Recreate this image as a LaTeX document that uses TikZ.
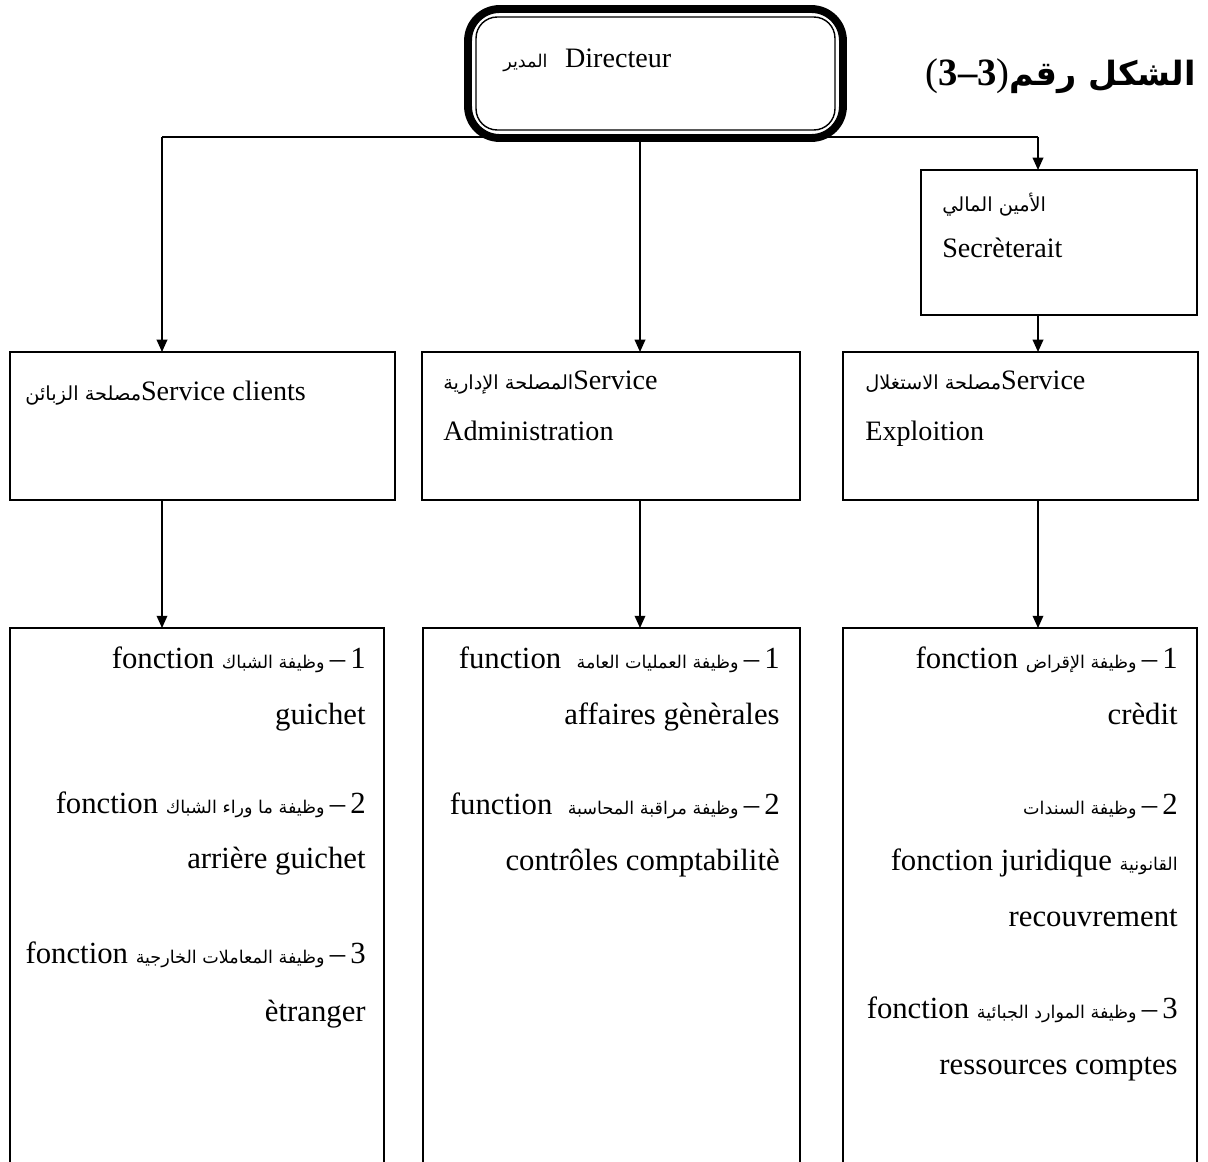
\documentclass[tikz,border=0pt]{standalone}
\usepackage{fontspec}
\setmainfont{Liberation Serif}
\newfontfamily\arfont[Script=Arabic]{DejaVu Sans}
\TeXXeTstate=1
\usetikzlibrary{arrows.meta}
% Arabic run set right to left, optional size in pt
\newcommand{\AR}[2][10]{{\arfont\fontsize{#1}{#1}\selectfont\beginR #2\endR}}
\newcommand{\ARB}[2][16]{{\arfont\bfseries\fontsize{#1}{#1}\selectfont\beginR #2\endR}}

\begin{document}
\begin{tikzpicture}[x=0.02cm,y=-0.02cm,
  box/.style={draw, line width=1pt, fill=white, inner sep=0pt, outer sep=0pt},
  arr/.style={line width=1pt, -{Triangle[length=7pt,width=6pt]}},
  bus/.style={line width=1pt},
  svctext/.style={font=\fontsize{16}{19}\selectfont, inner sep=0pt, anchor=base west},
  fntext/.style={font=\fontsize{17.5}{20}\selectfont, inner sep=0pt, anchor=base east}]
\useasboundingbox (0,0) rectangle (1208,1162);
\clip (0,0) rectangle (1208,1162);

% junction points on the top bus
\coordinate (jL) at (162,137);
\coordinate (jM) at (640,137);
\coordinate (jR) at (1038,137);

% top bus, drawn first so the director box covers it
\draw[bus] (jL) -- (jR);

% director: thick rounded frame with a thin inner frame
\node[box, line width=4.5pt, rounded corners=18pt, minimum width=7.5cm, minimum height=2.58cm] (dir) at (655.5,73.5) {};
\draw[line width=0.8pt, rounded corners=12pt] ([shift={(8,8)}]dir.north west) rectangle ([shift={(-8,-8)}]dir.south east);
\node[svctext] (dirlabel) at (503,68) {\AR[10]{المدير}\hspace{10pt}Directeur};

% title
\node[inner sep=0pt, anchor=base east] (title) at (1196,86) {\fontsize{22}{24}\selectfont(\textbf{3–3})\ARB[19]{الشكل رقم}};

% secretariat
\node[box, minimum width=5.52cm, minimum height=2.9cm] (sec) at (1059,242.5) {};
\node[svctext] (seclabel1) at (942,212) {\AR[11]{الأمين المالي}};
\node[svctext] (seclabel2) at (942,258) {Secrèterait};

% service boxes
\node[box, minimum width=7.7cm, minimum height=2.96cm] (svcL) at (202.5,426) {};
\node[box, minimum width=7.56cm, minimum height=2.96cm] (svcM) at (611,426) {};
\node[box, minimum width=7.1cm, minimum height=2.96cm] (svcR) at (1020.5,426) {};

\node[svctext] (svcLlabel) at (25,400) {\AR[11]{مصلحة الزبائن}Service clients};
\node[svctext] (svcMlabel1) at (443,390) {\AR[11]{المصلحة الإدارية}Service};
\node[svctext] (svcMlabel2) at (443,440) {Administration};
\node[svctext] (svcRlabel1) at (865,390) {\AR[11]{مصلحة الاستغلال}Service};
\node[svctext] (svcRlabel2) at (865,440) {Exploition};

% function boxes (open towards the bottom edge)
\node[box, minimum width=7.48cm, minimum height=11.44cm] (fnL) at (197,914) {};
\node[box, minimum width=7.54cm, minimum height=11.44cm] (fnM) at (611.5,914) {};
\node[box, minimum width=7.08cm, minimum height=11.44cm] (fnR) at (1020,914) {};

% connectors
\draw[arr] (jL) -- (jL |- svcL.north);
\draw[arr] (jM |- dir.south) -- (jM |- svcM.north);
\draw[arr] (jR) -- (jR |- sec.north);
\draw[arr] (jR |- sec.south) -- (jR |- svcR.north);
\draw[arr] (jL |- svcL.south) -- (jL |- fnL.north);
\draw[arr] (jM |- svcM.south) -- (jM |- fnM.north);
\draw[arr] (jR |- svcR.south) -- (jR |- fnR.north);

% left column
\node[fntext] (fnL1) at (366,668) {fonction \AR{وظيفة الشباك}\,–\,1};
\node[fntext] (fnL2) at (366,724) {guichet};
\node[fntext] (fnL3) at (366,813) {fonction \AR{وظيفة ما وراء الشباك}\,–\,2};
\node[fntext] (fnL4) at (366,868) {arrière guichet};
\node[fntext] (fnL5) at (366,963) {fonction \AR{وظيفة المعاملات الخارجية}\,–\,3};
\node[fntext] (fnL6) at (366,1021) {ètranger};

% middle column
\node[fntext] (fnM1) at (780,668) {function\ \ \AR{وظيفة العمليات العامة}\,–\,1};
\node[fntext] (fnM2) at (780,724) {affaires gènèrales};
\node[fntext] (fnM3) at (780,814) {function\ \ \AR{وظيفة مراقبة المحاسبة}\,–\,2};
\node[fntext] (fnM4) at (780,870) {contrôles comptabilitè};

% right column
\node[fntext] (fnR1) at (1178,668) {fonction \AR{وظيفة الإقراض}\,–\,1};
\node[fntext] (fnR2) at (1178,724) {crèdit};
\node[fntext] (fnR3) at (1178,814) {\AR{وظيفة السندات}\,–\,2};
\node[fntext] (fnR4) at (1178,870) {fonction juridique \AR{القانونية}};
\node[fntext] (fnR5) at (1178,926) {recouvrement};
\node[fntext] (fnR6) at (1178,1018) {fonction \AR{وظيفة الموارد الجبائية}\,–\,3};
\node[fntext] (fnR7) at (1178,1074) {ressources comptes};
\end{tikzpicture}
\end{document}
